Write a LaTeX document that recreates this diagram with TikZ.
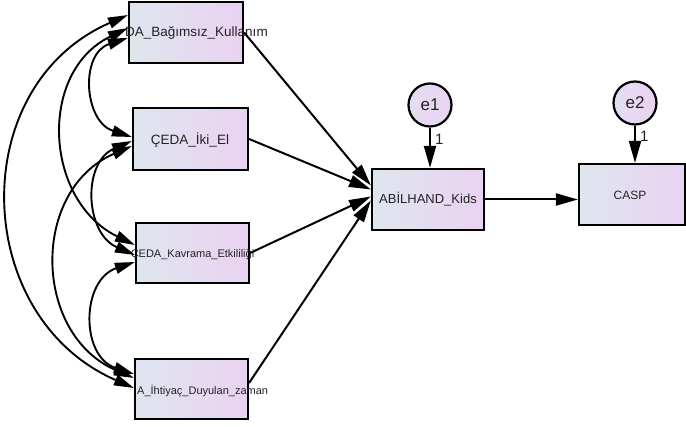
\documentclass[tikz,border=0pt]{standalone}
\usepackage{fontspec}
\setmainfont{Liberation Sans}
\usetikzlibrary{arrows.meta,calc}
\definecolor{shL}{RGB}{222,230,238}
\definecolor{shR}{RGB}{234,210,242}
\definecolor{txt}{RGB}{35,35,35}
\begin{document}
\begin{tikzpicture}[x=1pt,y=-1pt,
  var/.style={draw=black, line width=2.2pt, left color=shL, right color=shR, inner sep=0pt},
  err/.style={circle, draw=black, line width=2.2pt, left color=shL!60!shR, right color=shR, minimum size=43pt, inner sep=0pt, text=txt, font=\fontsize{17}{17}\selectfont},
  lbl/.style={text=txt, inner sep=0pt},
  path/.style={line width=2pt, -{Triangle[length=22pt,width=12pt]}},
  cov/.style={line width=1.9pt, {Triangle[length=20pt,width=11pt]}-{Triangle[length=20pt,width=11pt]}},
  one/.style={text=txt, font=\fontsize{15}{15}\selectfont, inner sep=0pt, xshift=4pt}
]
\useasboundingbox (0,0) rectangle (686,427);
% observed boxes
\node[var, minimum width=114pt, minimum height=61pt] (b1) at (186,32.5) {};
\node[var, minimum width=115pt, minimum height=62pt] (b2) at (190.5,139) {};
\node[var, minimum width=113pt, minimum height=60pt] (b3) at (192.5,253) {};
\node[var, minimum width=113pt, minimum height=60pt] (b4) at (191.5,389) {};
\node[var, minimum width=112pt, minimum height=61pt] (abi) at (428,199.5) {};
\node[var, minimum width=106pt, minimum height=61pt] (casp) at (632,194.5) {};
% error terms
\node[err] (e1) at (430,105) {e1};
\node[err] (e2) at (635,103) {e2};
% texts
\node[lbl, anchor=west, font=\fontsize{13.5}{13.5}\selectfont] (t1) at (125,33) {DA\_Bağımsız\_Kullanım};
\node[lbl, font=\fontsize{13.5}{13.5}\selectfont] (t2) at (190,140) {ÇEDA\_İki\_El};
\node[lbl, font=\fontsize{11}{11}\selectfont] (t3) at (192.5,255) {ÇEDA\_Kavrama\_Etkililiği};
\node[lbl, anchor=west, font=\fontsize{11}{11}\selectfont] (t4) at (137,391) {A\_İhtiyaç\_Duyulan\_zaman};
\node[lbl, font=\fontsize{13}{13}\selectfont] (t5) at (428,199) {ABİLHAND\_Kids};
\node[lbl, font=\fontsize{12}{12}\selectfont] (t6) at (630,195) {CASP};
% regression paths
\draw[path] (b1.east) -- ($(abi.west)+(0,-14)$);
\draw[path] (b2.east) -- ($(abi.west)+(0,-10)$);
\draw[path] (b3.east) -- ($(abi.west)+(0,-3)$);
\draw[path] ($(b4.east)+(0,-6)$) -- ($(abi.west)+(0,1)$);
\draw[path] (abi.east) -- (abi.east -| casp.west);
\draw[path] (e1.south) -- (e1.south |- abi.north) node[one, pos=0.3, right] (o1) {1};
\draw[path] (e2.south) -- (e2.south |- casp.north) node[one, pos=0.3, right] (o2) {1};
% covariances
\draw[cov] ($(b1.west)+(0,-17.5)$) .. controls +(-163,71) and +(-163,-71) .. ($(b4.west)+(0,-1)$);
\draw[cov] ($(b1.west)+(0,-4.5)$) .. controls +(-90.5,44) and +(-90.5,-44) .. ($(b3.west)+(0,-8)$);
\draw[cov] ($(b2.west)+(0,7)$) .. controls +(-101.4,44) and +(-101.4,-44) .. ($(b4.west)+(0,-11)$);
\draw[cov] ($(b1.west)+(0,5.5)$) .. controls +(-48.2,15.5) and +(-48.2,-15.5) .. ($(b2.west)+(0,-2)$);
\draw[cov] ($(b2.west)+(0,2)$) .. controls +(-50,21.5) and +(-50,-21.5) .. ($(b3.west)+(0,2)$);
\draw[cov] ($(b3.west)+(0,9)$) .. controls +(-53.8,17.9) and +(-53.8,-17.9) .. ($(b4.west)+(0,-15)$);
\end{tikzpicture}
\end{document}
